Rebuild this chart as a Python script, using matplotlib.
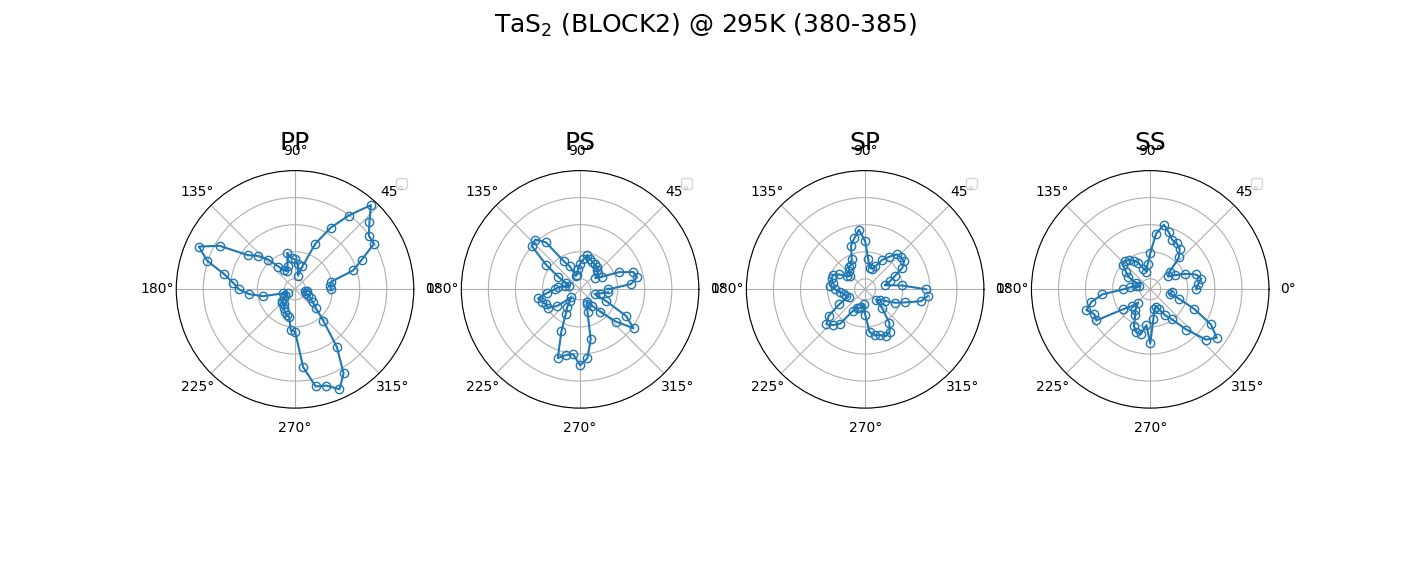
import numpy as np
import matplotlib.pyplot as plt

# polarisation angle (deg), one point every 6 deg
angles = np.arange(0, 360, 6)

pp = [0.94, 0.91, 0.98, 1.87, 2.31, 2.98, 2.98, 3.31, 3.80, 2.98,
      2.24, 1.46, 0.50, 0.13, 0.54, 0.72, 0.76, 0.98, 0.50, 0.35,
      0.42, 0.65, 1.09, 1.46, 1.76, 2.83, 3.50, 3.02, 2.28, 1.91,
      1.68, 1.31, 0.83, 0.09, -0.09, 0.05, 0.13, 0.24, 0.31, 0.28,
      0.42, 0.54, 0.61, 0.65, 1.13, 1.17, 2.50, 3.28, 3.35, 3.65,
      3.20, 2.24, 1.17, 0.65, 0.42, 0.28, 0.13, 0.02, -0.02, 0.05]

ps = [0.65, 1.50, 1.76, 1.68, 1.17, 0.54, 0.31, 0.50, 0.57, 0.65,
      0.68, 0.72, 0.80, 0.91, 0.72, 0.54, 0.35, 0.17, 0.13, 0.54,
      0.80, 1.76, 2.09, 2.02, 1.17, 0.54, 0.17, 0.05, 0.17, 0.42,
      0.54, 0.83, 1.20, 1.09, 0.98, 0.98, 0.65, 0.05, 0.17, 0.42,
      0.68, 1.31, 2.28, 2.09, 2.02, 2.42, 2.17, 1.50, 0.50, 0.20,
      0.13, 0.35, 0.72, 1.39, 2.05, 1.57, 0.65, 0.17, 0.35, 0.65]

sp = [1.87, 0.98, 0.35, 0.57, 0.80, 1.20, 1.39, 1.39, 1.35, 1.09,
      0.87, 0.54, 0.42, 0.42, 0.72, 1.39, 1.83, 1.54, 1.31, 0.83,
      0.65, 0.65, 0.50, 0.35, 0.42, 0.72, 0.91, 0.91, 0.83, 0.91,
      0.72, 0.54, 0.42, 0.35, 0.28, 0.72, 1.28, 1.54, 1.39, 1.17,
      0.54, 0.35, 0.35, 0.28, 0.17, 0.54, 1.20, 1.35, 1.39, 1.50,
      1.42, 1.13, 0.54, 0.17, 0.28, 0.46, 0.83, 1.17, 1.72, 1.94]

ss = [1.31, 1.39, 1.54, 1.39, 1.02, 0.65, 0.42, 0.57, 1.20, 1.46,
      1.57, 1.61, 1.83, 2.05, 1.68, 0.94, 0.54, 0.28, 0.42, 0.68,
      0.83, 0.94, 1.02, 0.98, 0.72, 0.54, 0.17, 0.05, 0.13, 0.35,
      0.61, 1.39, 1.83, 2.09, 1.87, 1.91, 0.87, 0.54, 0.28, 0.54,
      0.72, 1.09, 1.28, 1.31, 0.94, 1.61, 0.72, 0.35, 0.28, 0.42,
      0.72, 0.98, 1.61, 2.39, 2.65, 2.20, 1.39, 0.72, 0.35, 0.42]

names = ['PP', 'PS', 'SP', 'SS']
series = [pp, ps, sp, ss]

fig, axes = plt.subplots(1, 4, figsize=(14.1, 5.73),
                         subplot_kw={'projection': 'polar'})
fig.suptitle('TaS$_2$ (BLOCK2) @ 295K (380-385)', fontsize=18)

for ax, name, vals in zip(axes, names, series):
    ax.plot(np.deg2rad(angles), vals, 'o-', mfc='none')
    # old-style polar title spot (y=1.05), sits on top of the 90° label
    ax.set_title(name, fontsize=18, y=1.05)
    ax.set_ylim(-0.39, 4.0)
    ax.set_yticks([0, 1, 2, 3, 4])
    ax.set_yticklabels([])
    ax.legend()

fig.savefig('out.png')
